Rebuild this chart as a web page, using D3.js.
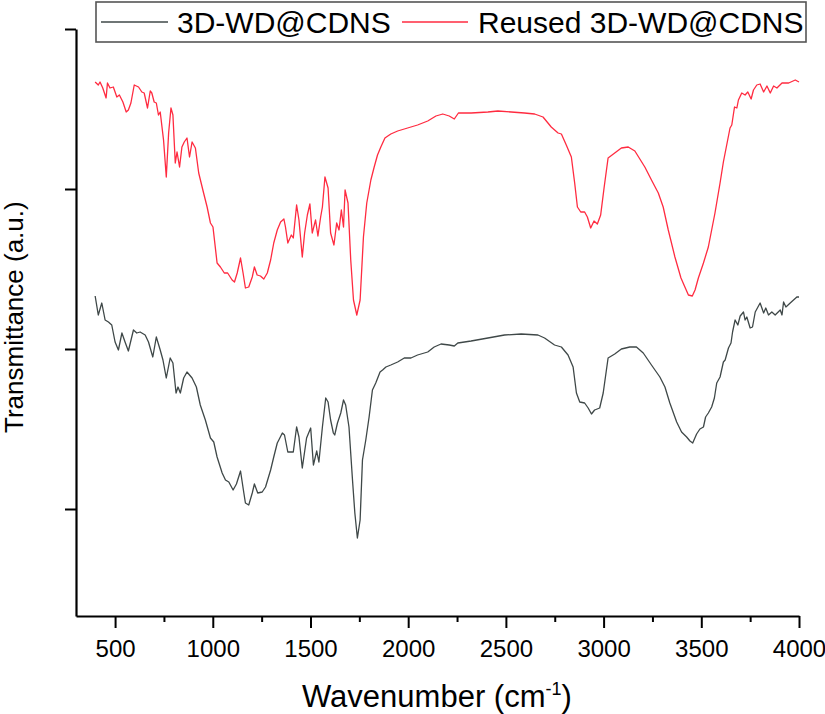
<!DOCTYPE html>
<html>
<head>
<meta charset="utf-8">
<script src="https://cdn.jsdelivr.net/npm/d3@7"></script>
<style>
  body { margin: 0; background: #fff; }
  svg { display: block; font-family: "Liberation Sans", Arial, sans-serif; }
</style>
</head>
<body>
<div id="chart"></div>
<script>
// FTIR spectra: [wavenumber cm-1, transmittance (a.u.)]
const seriesNames = ['3D-WD@CDNS', 'Reused 3D-WD@CDNS'];
const seriesColors = ['#3f4848', '#ff2b40'];

const freshSpectrum = [
  [398,320],[414,301],[432,313],[449,296],[466,294],[483,291],[500,274],[517,266],[535,283],[551,274],
  [568,265],[594,286],[611,283],[628,284],[654,281],[671,274],[693,259],[711,279],[731,266],[745,256],
  [762,238],[782,258],[796,253],[812,223],[822,229],[834,223],[851,238],[868,244],[894,238],[916,229],
  [936,211],[962,196],[988,178],[1005,174],[1022,159],[1048,143],[1065,136],[1082,134],[1104,126],[1121,132],
  [1142,145],[1159,123],[1167,113],[1184,111],[1202,123],[1213,132],[1230,123],[1253,124],[1270,129],[1296,146],
  [1312,159],[1330,173],[1338,176],[1356,183],[1367,181],[1384,164],[1412,164],[1429,189],[1441,179],[1458,148],
  [1480,178],[1501,188],[1515,151],[1532,165],[1543,154],[1561,189],[1578,218],[1590,214],[1603,196],[1617,183],
  [1624,181],[1638,193],[1655,203],[1669,216],[1680,211],[1697,189],[1715,136],[1727,103],[1740,78],[1754,96],
  [1766,156],[1783,176],[1800,199],[1817,226],[1834,233],[1856,244],[1869,246],[1886,249],[1911,251],[1946,254],
  [1980,258],[2014,258],[2048,261],[2100,264],[2133,269],[2168,272],[2210,271],[2236,270],[2254,273],[2322,275],
  [2408,278],[2493,281],[2578,282],[2664,281],[2698,278],[2749,271],[2784,269],[2818,261],[2844,249],[2861,223],
  [2878,214],[2903,213],[2921,208],[2938,202],[2954,206],[2980,208],[2998,223],[3023,258],[3057,262],[3091,267],
  [3134,269],[3168,269],[3203,263],[3245,251],[3288,239],[3314,229],[3339,213],[3374,194],[3399,184],[3425,179],
  [3442,175],[3456,173],[3476,182],[3493,187],[3511,189],[3522,199],[3536,203],[3553,209],[3567,218],[3579,233],
  [3596,239],[3613,254],[3622,256],[3639,268],[3652,273],[3660,284],[3673,296],[3687,291],[3699,300],[3716,304],
  [3724,296],[3733,299],[3750,288],[3762,289],[3776,304],[3801,313],[3819,303],[3830,308],[3844,301],[3861,304],
  [3878,301],[3904,306],[3913,301],[3921,314],[3933,309],[3955,313],[3972,316],[3989,319],[4000,319]
];

const reusedSpectrum = [
  [398,534],[414,531],[423,534],[437,528],[454,518],[461,533],[474,528],[491,529],[509,519],[522,521],
  [540,514],[557,504],[568,506],[581,513],[598,531],[620,529],[637,524],[649,523],[666,508],[680,525],
  [688,523],[700,514],[711,513],[722,501],[731,504],[748,476],[762,439],[774,483],[786,508],[796,501],
  [808,453],[817,464],[830,449],[842,469],[854,474],[868,478],[881,459],[894,474],[911,468],[928,443],
  [953,423],[971,409],[988,393],[1001,389],[1022,353],[1039,349],[1059,343],[1076,343],[1099,336],[1111,334],
  [1125,343],[1142,358],[1155,343],[1167,328],[1184,329],[1202,339],[1213,349],[1227,341],[1244,340],[1261,337],
  [1279,343],[1296,356],[1312,373],[1330,386],[1347,394],[1364,397],[1372,389],[1384,373],[1402,381],[1412,378],
  [1429,411],[1441,396],[1458,359],[1470,383],[1484,401],[1497,412],[1509,383],[1526,396],[1538,380],[1552,399],
  [1561,409],[1574,439],[1590,428],[1603,383],[1620,371],[1634,393],[1646,386],[1658,406],[1669,389],[1677,426],
  [1692,413],[1706,356],[1720,316],[1737,301],[1754,316],[1771,379],[1788,413],[1809,436],[1826,449],[1843,461],
  [1860,469],[1881,478],[1911,482],[1946,485],[1997,488],[2048,491],[2100,495],[2142,500],[2177,502],[2210,500],
  [2236,497],[2257,503],[2322,503],[2408,504],[2459,505],[2527,504],[2595,503],[2647,502],[2690,499],[2732,489],
  [2767,483],[2784,482],[2809,471],[2835,459],[2852,433],[2866,409],[2883,404],[2903,404],[2917,399],[2934,388],
  [2951,395],[2968,392],[2985,401],[3003,429],[3023,458],[3057,463],[3091,468],[3126,469],[3160,465],[3211,449],
  [3245,436],[3280,423],[3305,409],[3331,386],[3365,359],[3396,338],[3416,329],[3434,321],[3454,320],[3468,326],
  [3485,338],[3511,353],[3536,369],[3570,403],[3596,433],[3613,454],[3635,476],[3647,488],[3656,491],[3670,509],
  [3682,508],[3690,516],[3707,523],[3724,521],[3738,524],[3755,517],[3767,526],[3784,531],[3801,532],[3819,524],
  [3836,530],[3853,523],[3870,530],[3887,528],[3913,533],[3947,533],[3981,536],[4000,534]
];

const xMajorTicks = [500, 1000, 1500, 2000, 2500, 3000, 3500, 4000];
const xMinorTicks = [750, 1250, 1750, 2250, 2750, 3250, 3750];
const yTicks = [107, 267, 427, 587];

const W = 825, H = 714;
const plotLeft = 76, plotRight = 799, plotTop = 29, plotBottom = 616;

const svg = d3.select('#chart').append('svg')
  .attr('width', W)
  .attr('height', H);

const x = d3.scaleLinear().domain([300, 4000]).range([plotLeft, plotRight]);
const y = d3.scaleLinear().domain([0, 587]).range([plotBottom, plotTop]);

// curves
const line = d3.line().x(d => x(d[0])).y(d => y(d[1]));
[freshSpectrum, reusedSpectrum].forEach((data, i) => {
  svg.append('path')
    .datum(data)
    .attr('fill', 'none')
    .attr('stroke', seriesColors[i])
    .attr('stroke-width', 1.3)
    .attr('stroke-linejoin', 'round')
    .attr('d', line);
});

// x axis: minor then major
svg.append('g')
  .attr('transform', `translate(0,${plotBottom})`)
  .call(d3.axisBottom(x).tickValues(xMinorTicks).tickSize(6).tickSizeOuter(0).tickFormat(''))
  .call(g => g.select('.domain').remove())
  .selectAll('line').attr('stroke-width', 2);

const xAxis = svg.append('g')
  .attr('transform', `translate(0,${plotBottom})`)
  .call(d3.axisBottom(x).tickValues(xMajorTicks).tickSize(12).tickSizeOuter(0).tickFormat(d3.format('d')));
xAxis.select('.domain').attr('stroke-width', 2.2);
xAxis.selectAll('line').attr('stroke-width', 2);
xAxis.selectAll('text')
  .attr('y', 41).attr('dy', 0)
  .attr('font-size', 24)
  .attr('font-family', '"Liberation Sans", Arial, sans-serif')
  .attr('fill', '#000');

// y axis (no labels)
const yAxis = svg.append('g')
  .attr('transform', `translate(${plotLeft},0)`)
  .call(d3.axisLeft(y).tickValues(yTicks).tickSize(11).tickSizeOuter(0).tickFormat(''));
yAxis.select('.domain').attr('stroke-width', 2.2);
yAxis.selectAll('line').attr('stroke-width', 2);

// axis titles
const xTitle = svg.append('text')
  .attr('x', 302).attr('y', 707)
  .attr('font-size', 31)
  .attr('fill', '#000');
xTitle.append('tspan').text('Wavenumber (cm');
xTitle.append('tspan').attr('font-size', 18).attr('dy', -12).text('-1');
xTitle.append('tspan').attr('dy', 12).text(')');

svg.append('text')
  .attr('transform', 'translate(23,433) rotate(-90)')
  .attr('font-size', 26)
  .attr('fill', '#000')
  .text('Transmittance (a.u.)');

// legend
const legend = svg.append('g');
legend.append('rect')
  .attr('x', 96).attr('y', 2).attr('width', 710).attr('height', 40)
  .attr('fill', '#fff').attr('stroke', '#555').attr('stroke-width', 1.6);

const legendItems = [
  { x1: 101, x2: 168, tx: 177 },
  { x1: 402, x2: 468, tx: 478 }
];
legendItems.forEach((it, i) => {
  legend.append('line')
    .attr('x1', it.x1).attr('x2', it.x2)
    .attr('y1', 22).attr('y2', 22)
    .attr('stroke', seriesColors[i]).attr('stroke-width', 1.4);
  legend.append('text')
    .attr('x', it.tx).attr('y', 33)
    .attr('font-size', 30)
    .attr('fill', '#000')
    .text(seriesNames[i]);
});
</script>
</body>
</html>
